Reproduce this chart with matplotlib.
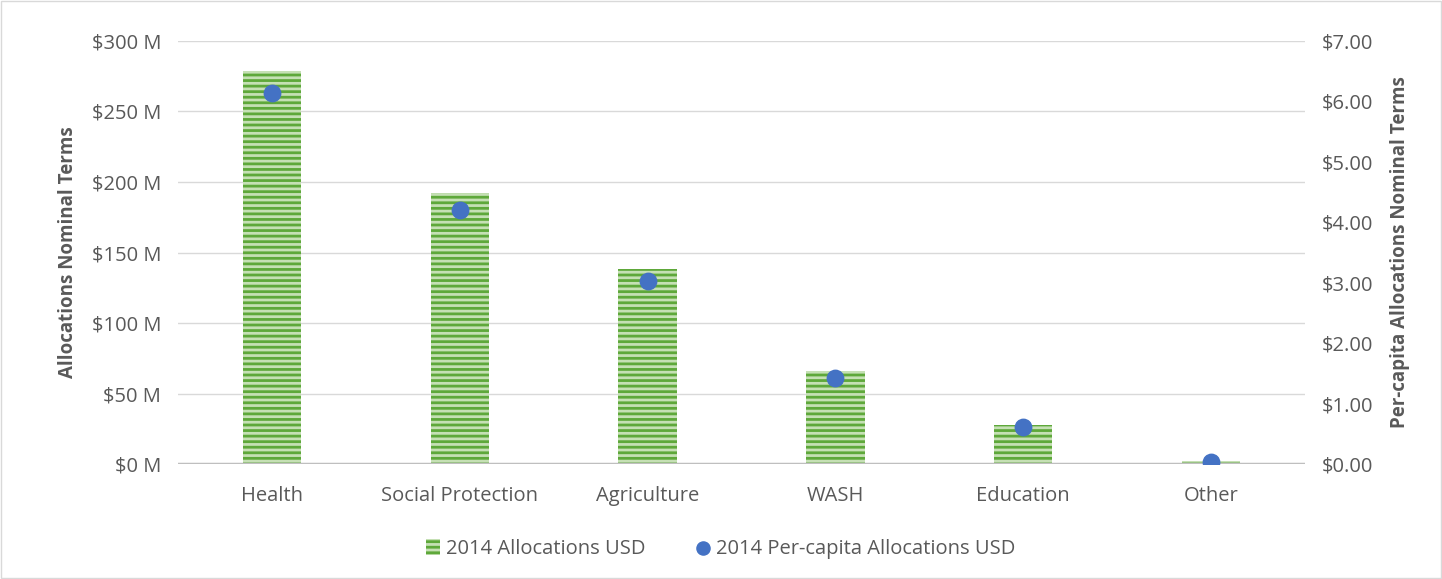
import matplotlib
matplotlib.use("Agg")
import matplotlib.pyplot as plt
import numpy as np

categories = ["Health", "Social Protection", "Agriculture", "WASH", "Education", "Other"]
alloc_musd = [279, 192, 138, 66, 28, 2]
percap_usd = [6.14, 4.21, 3.03, 1.42, 0.61, 0.04]

plt.rcParams['font.family'] = ['Open Sans', 'DejaVu Sans']
plt.rcParams['hatch.color'] = '#5ea83a'
plt.rcParams['hatch.linewidth'] = 2.0

grey = '#595959'
fig = plt.figure(figsize=(14.42, 5.79), dpi=100)
fig.patches.append(plt.Rectangle((0.001, 0.002), 0.998, 0.996, transform=fig.transFigure,
                                 fill=False, edgecolor='#d9d9d9', linewidth=1))
ax = fig.add_axes([0.1234, 0.1986, 0.7816, 0.7306])
ax2 = ax.twinx()

x = np.arange(len(categories))
bars = ax.bar(x, alloc_musd, width=0.31, color='#c5e0b4', edgecolor='#5ea83a',
              hatch='---', linewidth=0, label='2014 Allocations USD', zorder=2)
ax2.scatter(x, percap_usd, s=140, color='#4472c4', zorder=3,
            label='2014 Per-capita Allocations USD')

ax.set_xlim(-0.5, len(categories) - 0.5)
ax.set_ylim(0, 300)
ax2.set_ylim(0, 7)
ax.set_yticks(np.arange(0, 301, 50))
ax.set_yticklabels(['$%d M' % v for v in range(0, 301, 50)])
ax2.set_yticks(np.arange(0, 7.01, 1))
ax2.set_yticklabels(['$%.2f' % v for v in range(0, 8)])
ax.set_xticks(x)
ax.set_xticklabels(categories)

ax.grid(axis='y', color='#d9d9d9', linewidth=1, zorder=0)
ax.set_axisbelow(True)
for a in (ax, ax2):
    for s in a.spines.values():
        s.set_visible(False)
    a.tick_params(length=0, labelsize=14.5, colors=grey, pad=12)
ax.axhline(0, color='#bfbfbf', linewidth=2.5, zorder=4)
ax.tick_params(axis='x', pad=16)

ax.set_ylabel('Allocations Nominal Terms', fontsize=13.5, fontweight='bold', color=grey, labelpad=10)
ax2.set_ylabel('Per-capita Allocations Nominal Terms', fontsize=13.5, fontweight='bold', color=grey, labelpad=12)

h1, l1 = ax.get_legend_handles_labels()
h2, l2 = ax2.get_legend_handles_labels()
fig.legend(h1 + h2, l1 + l2, loc='center', bbox_to_anchor=(0.5, 0.052), ncol=2,
           frameon=False, fontsize=14.5, labelcolor=grey, handlelength=0.7,
           handleheight=0.8, columnspacing=2.5, handletextpad=0.3, markerscale=0.8)

fig.savefig('out.png', dpi=100)
